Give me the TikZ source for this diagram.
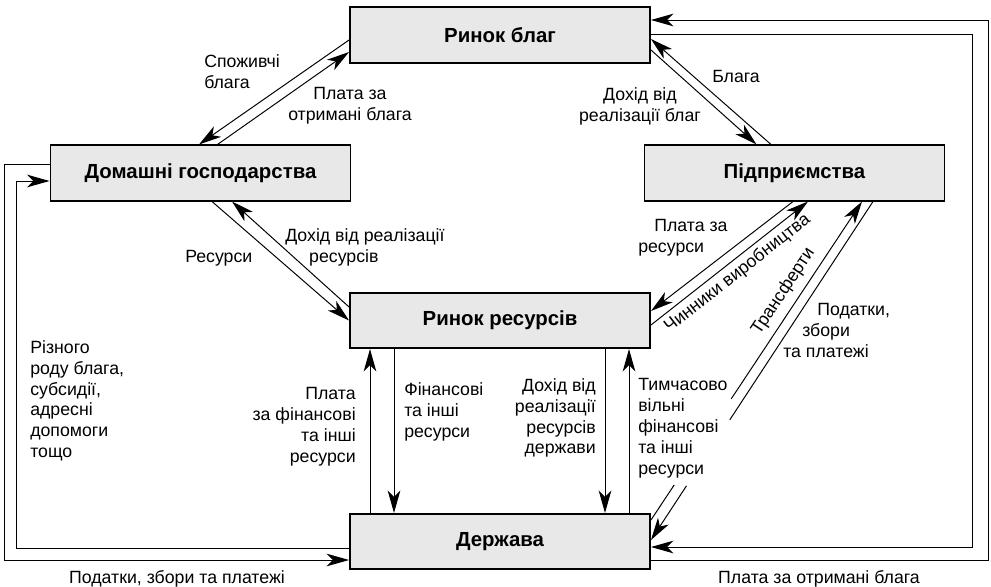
\documentclass[tikz,border=0pt]{standalone}
\usepackage{fontspec}
\setmainfont{Liberation Sans}
\usepackage{tikz}
\usetikzlibrary{arrows.meta, calc}

\begin{document}
\begin{tikzpicture}[x=0.025cm, y=-0.025cm,
  box/.style={draw, line width=1.3pt, fill=black!9, minimum width=7.5cm, minimum height=1.38cm, font=\fontsize{14.5}{16}\selectfont\bfseries},
  wire/.style={line width=0.7pt},
  flow/.style={wire, -{Stealth[length=16pt, width=9pt, inset=4.5pt]}},
  lbl/.style={inner sep=0pt, font=\fontsize{12.6}{14.9}\selectfont}]
\useasboundingbox (0,0) rectangle (991,586);
\node[box] (rb) at (500,35) {Ринок благ};
\node[box] (dg) at (200.5,173) {Домашні господарства};
\node[box] (pd) at (794.5,173) {Підприємства};
\node[box] (rr) at (500,320.5) {Ринок ресурсів};
\node[box] (dz) at (500,541.5) {Держава};
\draw[flow] ($(rb.west)+(0,5)$) -- ($(dg.north)+(-1.5,0)$);
\draw[flow] ($(dg.north)+(17,0)$) -- ($(rb.west)+(0,17)$);
\draw[flow] ($(rb.east)+(0,15)$) -- ($(pd.north)+(-38,0)$);
\draw[flow] ($(pd.north)+(-23.5,0)$) -- ($(rb.east)+(0,4)$);
\draw[flow] ($(dg.south)+(11.5,0)$) -- ($(rr.west)+(0,0)$);
\draw[flow] ($(rr.west)+(0,-13.5)$) -- ($(dg.south)+(31.5,0)$);
\draw[flow] ($(pd.south)+(-1.5,0)$) -- ($(rr.east)+(0,-9.5)$);
\draw[flow] ($(rr.east)+(0,4.5)$) -- ($(pd.south)+(13.5,0)$)
  node[lbl, pos=0.5, sloped, below=3pt] {Чинники виробництва};
\coordinate (tr0) at ($(dz.east)+(0,-21.5)$);
\coordinate (tr1) at ($(pd.south)+(67.5,0)$);
\draw[wire] (tr0) -- ($(tr0)!0.11!(tr1)$);
\draw[flow] ($(tr0)!0.38!(tr1)$) -- (tr1) node[lbl, pos=0.5, sloped, above=5pt] {Трансферти};
\coordinate (pt0) at ($(pd.south)+(78.5,0)$);
\coordinate (pt1) at ($(dz.east)+(0,-1.5)$);
\draw[wire] (pt0) -- ($(pt0)!0.645!(pt1)$);
\draw[flow] ($(pt0)!0.84!(pt1)$) -- (pt1);
\draw[flow] ($(dz.north)+(-130,0)$) -- ($(rr.south)+(-130,0)$);
\draw[flow] ($(rr.south)+(-106,0)$) -- ($(dz.north)+(-106,0)$);
\draw[flow] ($(rr.south)+(105,0)$) -- ($(dz.north)+(105,0)$);
\draw[flow] ($(dz.north)+(129,0)$) -- ($(rr.south)+(129,0)$);
\draw[flow] ($(dg.west)+(0,-9)$) -- ++(-45,0) |- ($(dz.west)+(0,18.5)$);
\draw[flow] ($(dz.west)+(0,6.5)$) -| ($(dg.west)+(-33,8)$) -- ($(dg.west)+(0,8)$);
\draw[flow] ($(dz.east)+(0,18.5)$) -| ($(rb.east)+(338,-15)$) -- ($(rb.east)+(0,-15)$);
\draw[flow] ($(rb.east)+(0,-1)$) -| ($(dz.east)+(322,5.5)$) -- ($(dz.east)+(0,5.5)$);
\node[lbl, anchor=north west, align=left] (l1) at (204,54) {Споживчі\\блага};
\node[lbl, anchor=north, align=center] (l2) at (350,87) {Плата за\\отримані блага};
\node[lbl, anchor=north west, align=left] (l3) at (285,228) {Дохід від реалізації\\\hspace*{17pt}ресурсів};
\node[lbl, anchor=north west] (l4) at (185,250) {Ресурси};
\node[lbl, anchor=north west] (l5) at (712,70) {Блага};
\node[lbl, anchor=north, align=center] (l6) at (640,87) {Дохід від\\реалізації благ};
\node[lbl, anchor=north west, align=left] (l7) at (638,219) {\hspace*{11.4pt}Плата за\\ресурси};
\node[lbl, anchor=north west, align=left] (l8) at (783,303) {\hspace*{24.2pt}Податки,\\\hspace*{13.5pt}збори\\та платежі};
\node[lbl, anchor=north east, align=right] (l9) at (356,387) {Плата\\за фінансові\\та інші\\ресурси};
\node[lbl, anchor=north west, align=left] (l10) at (404,382) {Фінансові\\та інші\\ресурси};
\node[lbl, anchor=north east, align=right] (l11) at (596,378) {Дохід від\\реалізації\\ресурсів\\держави};
\node[lbl, anchor=north west, align=left] (l12) at (638,378) {Тимчасово\\вільні\\фінансові\\та інші\\ресурси};
\node[lbl, anchor=north west, align=left] (l13) at (30,340) {Різного\\роду блага,\\субсидії,\\адресні\\допомоги\\тощо};
\node[lbl, anchor=north] (l14) at (177,570) {Податки, збори та платежі};
\node[lbl, anchor=north] (l15) at (819,570) {Плата за отримані блага};
\end{tikzpicture}
\end{document}
